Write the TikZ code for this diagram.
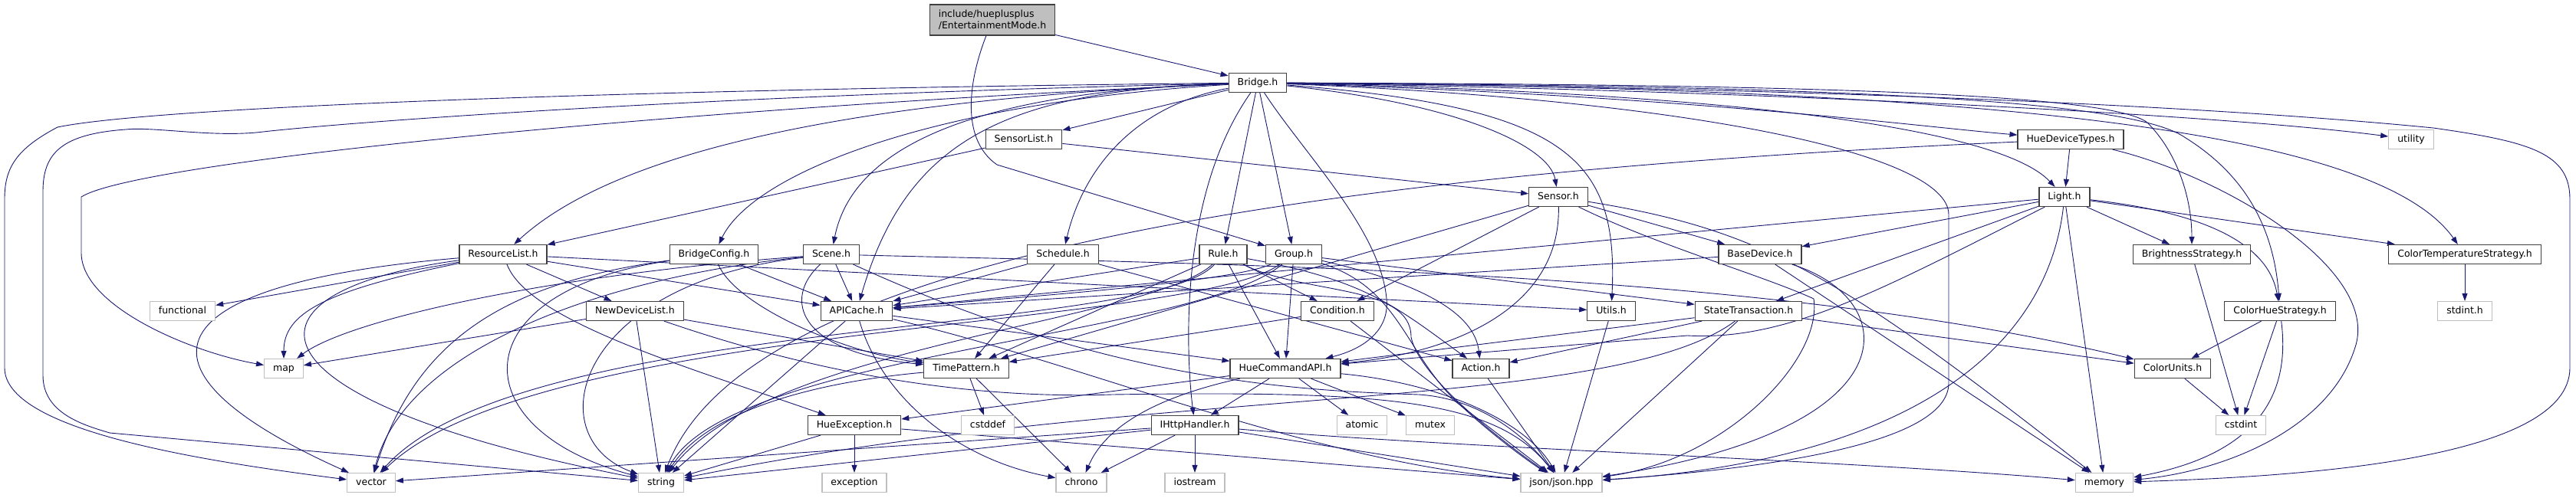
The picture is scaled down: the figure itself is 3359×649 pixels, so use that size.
\documentclass[tikz,border=0pt]{standalone}
\usepackage{fontspec}
\setmainfont{DejaVu Sans}
\usepackage{tikz}
\usetikzlibrary{arrows.meta,backgrounds}
\definecolor{edgeblue}{HTML}{191970}
\definecolor{boxline}{HTML}{404040}
\definecolor{sysline}{HTML}{BFBFBF}
\definecolor{rootfill}{HTML}{BFBFBF}
\tikzset{
  hdr/.style={draw=boxline,fill=white,line width=1.2pt,minimum height=25pt,inner xsep=11.5pt,inner ysep=0pt,
    text height=9.4pt,text depth=2.6pt,font=\fontsize{12.5}{15}\selectfont},
  sys/.style={hdr,draw=sysline},
  root/.style={hdr,fill=rootfill,align=left,minimum height=40pt,text height=,text depth=},
  dep/.style={-{Triangle[length=10pt,width=7pt]},draw=edgeblue,line width=0.9pt},
}
\begin{document}
\begin{tikzpicture}[x=1pt,y=-1pt]
\useasboundingbox (0,0) rectangle (3359,649);
% header files
\node[root] (ent) at (1294,26) {include/hueplusplus\\/EntertainmentMode.h};
\node[hdr] (bridge) at (1640,108) {Bridge.h};
\node[hdr] (sensorlist) at (1335,182) {SensorList.h};
\node[hdr] (devtypes) at (2700,182) {HueDeviceTypes.h};
\node[sys] (utility) at (3144,182) {utility};
\node[hdr] (sensor) at (2032,257) {Sensor.h};
\node[hdr] (light) at (2692,257) {Light.h};
\node[hdr] (reslist) at (656,332) {ResourceList.h};
\node[hdr] (bconfig) at (931,332) {BridgeConfig.h};
\node[hdr] (scene) at (1084,332) {Scene.h};
\node[hdr] (schedule) at (1386,332) {Schedule.h};
\node[hdr] (rule) at (1595,332) {Rule.h};
\node[hdr] (group) at (1687,332) {Group.h};
\node[hdr] (basedev) at (2295,332) {BaseDevice.h};
\node[hdr] (bright) at (2858,332) {BrightnessStrategy.h};
\node[hdr] (ctemp) at (3214,332) {ColorTemperatureStrategy.h};
\node[sys] (functional) at (238,406) {functional};
\node[hdr] (newdev) at (828,406) {NewDeviceList.h};
\node[hdr] (apicache) at (1117,406) {APICache.h};
\node[hdr] (condition) at (1744,406) {Condition.h};
\node[hdr] (utils) at (2101,406) {Utils.h};
\node[hdr] (statetr) at (2280,406) {StateTransaction.h};
\node[hdr] (chue) at (2973,406) {ColorHueStrategy.h};
\node[sys] (stdinth) at (3214,406) {stdint.h};
\node[sys] (map) at (370,481) {map};
\node[hdr] (tpattern) at (1260,481) {TimePattern.h};
\node[hdr] (hcmd) at (1676,481) {HueCommandAPI.h};
\node[hdr] (action) at (1931,481) {Action.h};
\node[hdr] (cunits) at (2833,481) {ColorUnits.h};
\node[hdr] (hexc) at (1114,555) {HueException.h};
\node[sys] (cstddef) at (1288,555) {cstddef};
\node[hdr] (ihttp) at (1558,555) {IHttpHandler.h};
\node[sys] (atomic) at (1776,555) {atomic};
\node[sys] (mutex) at (1865,555) {mutex};
\node[sys] (cstdint) at (2922,555) {cstdint};
\node[sys] (vector) at (484,630) {vector};
\node[sys] (string) at (862,630) {string};
\node[sys] (exception) at (1114,630) {exception};
\node[sys] (chrono) at (1410,630) {chrono};
\node[sys] (iostream) at (1558,630) {iostream};
\node[sys] (json) at (2036,630) {json/json.hpp};
\node[sys] (memory) at (2744,630) {memory};
\begin{scope}[on background layer]
% straight includes
\foreach \u/\v in {ent/bridge,bridge/sensorlist,bridge/rule,bridge/group,sensorlist/reslist,sensorlist/sensor,
  devtypes/light,light/apicache,light/basedev,light/statetr,light/memory,light/bright,light/ctemp,
  sensor/basedev,sensor/condition,sensor/tpattern,basedev/apicache,basedev/memory,
  reslist/functional,reslist/newdev,reslist/apicache,reslist/utils,bconfig/apicache,
  scene/apicache,schedule/apicache,schedule/tpattern,schedule/action,
  rule/apicache,rule/condition,rule/hcmd,rule/tpattern,
  group/hcmd,group/statetr,
  condition/tpattern,condition/json,utils/json,
  statetr/hcmd,statetr/action,statetr/cunits,statetr/json,
  chue/cunits,chue/cstdint,ctemp/stdinth,
  newdev/map,newdev/string,newdev/tpattern,
  apicache/hcmd,apicache/string,
  tpattern/cstddef,tpattern/chrono,
  hcmd/hexc,hcmd/ihttp,hcmd/atomic,hcmd/mutex,
  action/json,cunits/cstdint,bright/cstdint,
  hexc/exception,hexc/string,hexc/json,
  ihttp/chrono,ihttp/iostream,ihttp/string,ihttp/vector,ihttp/json}
  \draw[dep] (\u)--(\v);
% Bridge.h fan-out
\draw[dep] (bridge) .. controls (800,117) and (200,140) .. (75,166) .. controls (20,195) and (6,220) .. (6,260)
  -- (6,480) .. controls (6,560) and (250,600) .. (vector);
\draw[dep] (bridge) .. controls (900,125) and (450,160) .. (343,172) .. controls (280,180) and (200,165) .. (164,169)
  .. controls (80,175) and (56,200) .. (56,250) -- (56,490) .. controls (56,540) and (110,555) .. (143,565) -- (string);
\draw[dep] (bridge) .. controls (900,140) and (180,210) .. (106,257) -- (106,330) .. controls (106,400) and (250,460) .. (map);
\draw[dep] (bridge) .. controls (1100,130) and (800,200) .. (reslist);
\draw[dep] (bridge) .. controls (1200,135) and (980,230) .. (bconfig);
\draw[dep] (bridge) .. controls (1250,120) and (1110,200) .. (scene);
\draw[dep] (bridge) .. controls (1300,118) and (1180,190) .. (apicache);
\draw[dep] (bridge) .. controls (1470,140) and (1410,230) .. (schedule);
\draw[dep] (bridge) .. controls (1540,250) and (1545,450) .. (ihttp);
\draw[dep] (bridge) .. controls (1700,200) and (1800,300) .. (1808,390) .. controls (1812,430) and (1780,455) .. (hcmd);
\draw[dep] (bridge) .. controls (1900,135) and (2020,190) .. (sensor);
\draw[dep] (bridge) .. controls (2050,140) and (2110,210) .. (utils);
\draw[dep] (bridge) .. controls (2200,130) and (2541,200) .. (2541,280) -- (2541,500) .. controls (2541,580) and (2300,612) .. (json);
\draw[dep] (bridge) .. controls (2200,120) and (2600,160) .. (light);
\draw[dep] (bridge) .. controls (2200,125) and (2500,165) .. (devtypes);
\draw[dep] (bridge) .. controls (2300,110) and (2750,120) .. (2800,160) .. controls (2840,200) and (2858,260) .. (bright);
\draw[dep] (bridge) .. controls (2400,112) and (2780,130) .. (2850,180) .. controls (2930,230) and (2965,300) .. (chue);
\draw[dep] (bridge) .. controls (2600,115) and (3100,170) .. (ctemp);
\draw[dep] (bridge) .. controls (2300,118) and (2900,150) .. (utility);
\draw[dep] (bridge) .. controls (2400,115) and (2900,140) .. (3173,167) .. controls (3300,185) and (3351,200) .. (3351,260)
  -- (3351,480) .. controls (3351,600) and (3000,622) .. (memory);
\draw[dep] (ent) .. controls (1265,100) and (1250,180) .. (1300,215) -- (group);
% other bent includes
\draw[dep] (devtypes) .. controls (2900,230) and (3100,350) .. (3072,450) .. controls (3040,560) and (2900,615) .. (memory);
\draw[dep] (devtypes) .. controls (1400,240) and (950,400) .. (string);
\draw[dep] (light) .. controls (2900,280) and (2960,330) .. (chue);
\draw[dep] (light) .. controls (2670,450) and (2500,600) .. (json);
\draw[dep] (light) .. controls (2450,380) and (2330,445) .. (2200,438) -- (hcmd);
\draw[dep] (sensor) .. controls (2035,400) and (1900,460) .. (hcmd);
\draw[dep] (sensor) .. controls (2160,320) and (2300,360) .. (2365,390) .. controls (2377,470) and (2250,600) .. (json);
\draw[dep] (sensor) .. controls (2300,300) and (2400,360) .. (memory);
\draw[dep] (basedev) .. controls (2480,390) and (2500,560) .. (json);
\draw[dep] (chue) .. controls (2985,500) and (2960,590) .. (memory);
\draw[dep] (statetr) .. controls (2100,540) and (1500,500) .. (string);
\draw[dep] (group) .. controls (1900,380) and (1925,430) .. (action);
\draw[dep] (group) .. controls (1600,370) and (1300,390) .. (apicache);
\draw[dep] (group) .. controls (1820,375) and (1830,450) .. (1890,515) .. controls (1935,560) and (1990,600) .. (json);
\draw[dep] (group) .. controls (1550,430) and (700,420) .. (vector);
\draw[dep] (group) .. controls (1560,440) and (950,460) .. (string);
\draw[dep] (rule) .. controls (1780,365) and (1820,400) .. (action);
\draw[dep] (rule) .. controls (1700,385) and (1840,370) .. (1840,440) .. controls (1850,490) and (1950,570) .. (json);
\draw[dep] (rule) .. controls (1500,440) and (680,410) .. (vector);
\draw[dep] (rule) .. controls (1500,420) and (1000,450) .. (string);
\draw[dep] (scene) .. controls (1020,390) and (1040,460) .. (tpattern);
\draw[dep] (scene) .. controls (1600,345) and (2300,352) .. (cunits);
\draw[dep] (scene) .. controls (1450,500) and (1700,510) .. (1850,515) .. controls (1930,520) and (1990,570) .. (json);
\draw[dep] (scene) .. controls (700,360) and (450,420) .. (map);
\draw[dep] (scene) .. controls (800,360) and (530,450) .. (vector);
\draw[dep] (scene) .. controls (750,370) and (700,570) .. (string);
\draw[dep] (apicache) .. controls (1150,520) and (1250,600) .. (chrono);
\draw[dep] (apicache) .. controls (1400,470) and (1700,600) .. (json);
\draw[dep] (newdev) .. controls (1100,500) and (1300,520) .. (1450,515) .. controls (1800,510) and (1950,520) .. (json);
\draw[dep] (tpattern) .. controls (1050,500) and (920,540) .. (string);
\draw[dep] (hcmd) .. controls (1500,520) and (1440,560) .. (chrono);
\draw[dep] (hcmd) .. controls (1880,500) and (1990,550) .. (json);
\draw[dep] (ihttp) .. controls (1900,585) and (2400,600) .. (memory);
\draw[dep] (reslist) .. controls (200,370) and (150,480) .. (vector);
\draw[dep] (reslist) .. controls (300,380) and (300,520) .. (string);
\draw[dep] (reslist) .. controls (420,380) and (370,410) .. (map);
\draw[dep] (reslist) .. controls (690,420) and (900,480) .. (hexc);
\draw[dep] (bconfig) .. controls (960,400) and (1100,460) .. (tpattern);
\draw[dep] (bconfig) .. controls (650,370) and (540,450) .. (vector);
\draw[dep] (bconfig) .. controls (600,380) and (600,560) .. (string);
\end{scope}
\end{tikzpicture}
\end{document}
